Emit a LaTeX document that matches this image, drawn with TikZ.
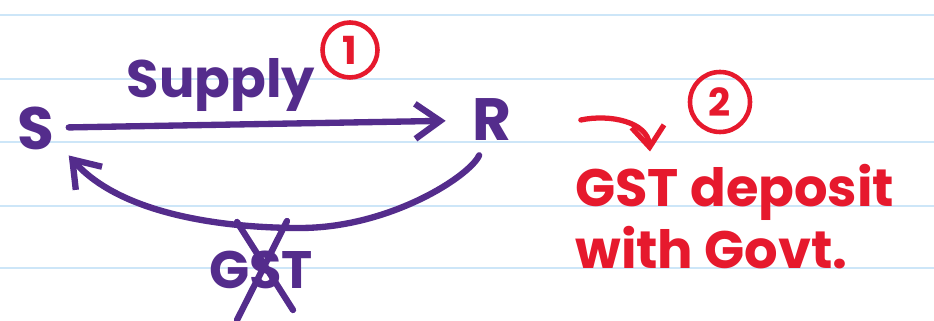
\documentclass[tikz,border=0pt]{standalone}
\usepackage{fontspec}
\setmainfont{Poppins}
\usetikzlibrary{arrows.meta}
\definecolor{pen}{RGB}{84,44,140}
\definecolor{ink}{RGB}{230,25,45}
\definecolor{paperline}{RGB}{205,230,248}

\begin{document}
\begin{tikzpicture}[
  hand/.style={font=\fontsize{30}{35}\selectfont\bfseries},
  big/.style={font=\fontsize{34}{40}\selectfont\bfseries},
  penline/.style={pen, line width=3.6pt, line cap=round, line join=round},
  penarrow/.style={penline, -{Straight Barb[length=0.5cm,width=0.7cm]}},
  inkarrow/.style={ink, line width=3pt, line cap=round, -{Straight Barb[length=0.42cm,width=0.65cm]}},
  number/.style={circle, draw=ink, text=ink, line width=2.6pt, minimum size=1.1cm, inner sep=0pt, font=\fontsize{22}{26}\selectfont\bfseries}
]

\useasboundingbox (0,0) rectangle (18.68,6.42);
\fill[white] (0,0) rectangle (18.68,6.42);
\foreach \y in {6.12,4.84,3.58,2.30,1.06}
  \draw[paperline, line width=1pt] (0,\y) -- (18.68,\y);

% seller and recipient
\node[big, text=pen, inner sep=0.28cm] (S) at (0.72,3.86) {S};
\node[big, text=pen, inner sep=0.28cm] (R) at (9.84,4.02) {R};

\node[hand, text=pen, anchor=base] (supply) at (4.42,4.46) {Supply};
\node[number] (one) at (7.0,5.42) {1};

\draw[penarrow, shorten >=0.25cm] (S) -- (R);
\draw[penarrow] (R.250) .. controls (9.4,2.9) and (7.8,1.86) .. (6.0,1.86)
  .. controls (4.4,1.86) and (2.4,2.15) .. (S.-40);

% crossed out tax
\node[hand, text=pen, inner sep=0pt] (gst) at (5.22,1.02) {GST};
\draw[penline] ([shift={(-0.48,0.96)}]gst.center) -- ([shift={(0.64,-0.8)}]gst.center);
\draw[penline] ([shift={(0.52,0.98)}]gst.center) -- ([shift={(-0.48,-1.0)}]gst.center);

% deposit note
\node[number, minimum size=1.2cm] (two) at (14.4,4.38) {2};
\node[hand, text=ink, align=left, anchor=north west, inner sep=0pt] (dep) at (11.5,3.14) {GST deposit\\with Govt.};
\draw[inkarrow] ([xshift=1.1cm]R.east) to[out=12,in=95] ([shift={(1.5,0.25)}]dep.north west);

\end{tikzpicture}
\end{document}
